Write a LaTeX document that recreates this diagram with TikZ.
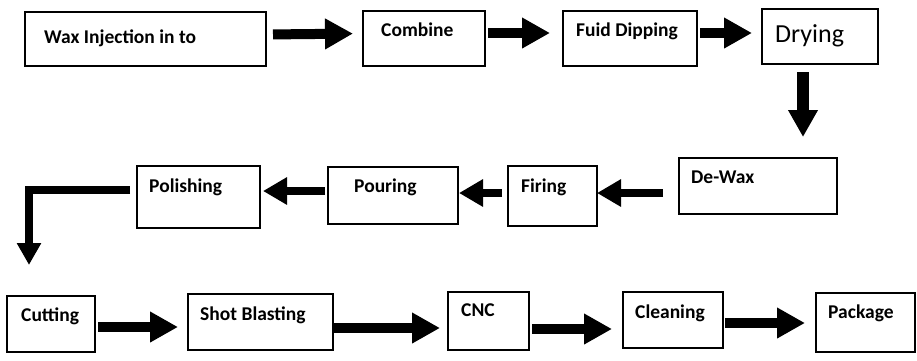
\documentclass[tikz,border=0pt]{standalone}
\usepackage{fontspec}
\setmainfont{Carlito}
\usetikzlibrary{arrows.meta}

\tikzset{
  box/.style={draw, line width=1.6pt, anchor=north west, inner sep=0pt, outer sep=0pt},
  lbl/.style={anchor=base west, inner sep=0pt, font=\bfseries\fontsize{19.5}{22}\selectfont},
  flow/.style={line width=10pt, -{Triangle[width=29pt,length=28pt]}},
  back/.style={line width=8.5pt, -{Triangle[width=26pt,length=24pt]}}
}

\begin{document}
\begin{tikzpicture}[x=1pt, y=-1pt]
        \useasboundingbox (0, 0) rectangle (917, 360);

        \node[box, minimum width=241pt, minimum height=54pt] (wax) at (25, 12) {};
        \node[box, minimum width=122pt, minimum height=55pt] (comb) at (363, 11) {};
        \node[box, minimum width=134pt, minimum height=55pt] (dip) at (563, 11) {};
        \node[box, minimum width=116pt, minimum height=55pt] (dry) at (762, 9) {};
        \node[box, minimum width=158pt, minimum height=56pt] (dewax) at (679, 158) {};
        \node[box, minimum width=89pt, minimum height=60pt] (fir) at (508, 166) {};
        \node[box, minimum width=130pt, minimum height=57pt] (pour) at (328, 167) {};
        \node[box, minimum width=123pt, minimum height=62pt] (pol) at (137, 166) {};
        \node[box, minimum width=88pt, minimum height=56pt] (cut) at (7, 296) {};
        \node[box, minimum width=145pt, minimum height=56pt] (shot) at (188, 294) {};
        \node[box, minimum width=81pt, minimum height=58pt] (cnc) at (448, 292) {};
        \node[box, minimum width=100pt, minimum height=56pt] (clean) at (623, 292) {};
        \node[box, minimum width=99pt, minimum height=59pt] (pack) at (816, 293) {};

        \node[lbl] (wax-t) at ([shift={(19, 31)}]wax.north west) {Wax Injection in to};
        \node[lbl] (comb-t) at ([shift={(18, 25)}]comb.north west) {Combine};
        \node[lbl] (dip-t) at ([shift={(13, 25)}]dip.north west) {Fuid Dipping};
        \node[lbl, font=\fontsize{26}{29}\selectfont] (dry-t) at ([shift={(13, 33)}]dry.north west) {Drying};
        \node[lbl] (dewax-t) at ([shift={(12, 25)}]dewax.north west) {De-Wax};
        \node[lbl] (fir-t) at ([shift={(13, 26)}]fir.north west) {Firing};
        \node[lbl] (pour-t) at ([shift={(26, 25.5)}]pour.north west) {Pouring};
        \node[lbl] (pol-t) at ([shift={(12, 26.5)}]pol.north west) {Polishing};
        \node[lbl] (cut-t) at ([shift={(14, 25.5)}]cut.north west) {Cutting};
        \node[lbl] (shot-t) at ([shift={(12, 26)}]shot.north west) {Shot Blasting};
        \node[lbl] (cnc-t) at ([shift={(13, 24.5)}]cnc.north west) {CNC};
        \node[lbl] (clean-t) at ([shift={(12, 26)}]clean.north west) {Cleaning};
        \node[lbl] (pack-t) at ([shift={(12, 25)}]pack.north west) {Package};

        % top row
        \draw[flow, shorten <=7pt, shorten >=10pt] ([yshift=4.5pt]wax.east) -- ([yshift=5pt]comb.west);
        \draw[flow, shorten <=3pt, shorten >=13pt] ([yshift=5.5pt]comb.east) -- ([yshift=5.5pt]dip.west);
        \draw[flow, shorten <=3pt, shorten >=10pt] ([yshift=5.5pt]dip.east) -- ([yshift=3.5pt]dry.west);
        \coordinate (drop) at ([xshift=-17pt]dry.south);
        \draw[line width=12pt, -{Triangle[width=28pt,length=27pt]}, shorten <=8pt, shorten >=21pt] (drop) -- (drop |- dewax.north);

        % middle row, right to left
        \draw[back, shorten <=16pt] ([yshift=-7pt]dewax.west) -- ([yshift=3pt]fir.east);
        \draw[back, shorten <=6pt, shorten >=1pt] ([yshift=3pt]fir.west) -- ([yshift=2.5pt]pour.east);
        \draw[back, shorten <=3pt, shorten >=3pt] ([yshift=4.5pt]pour.west) -- ([yshift=6pt]pol.east);
        \draw[line width=8pt, -{Triangle[width=23pt,length=22pt]}, shorten <=7pt, shorten >=31pt] ([yshift=7pt]pol.west) -| ([xshift=-22pt]cut.north);

        % bottom row
        \draw[flow, shorten <=3pt, shorten >=10pt] ([yshift=-3pt]cut.east) -- ([yshift=-5pt]shot.west);
        \draw[flow, shorten <=1pt, shorten >=8pt] ([yshift=-6pt]shot.east) -- ([yshift=-7pt]cnc.west);
        \draw[flow, shorten <=3pt, shorten >=11pt] ([yshift=-8pt]cnc.east) -- ([yshift=-9pt]clean.west);
        \draw[flow, shorten <=2pt, shorten >=11pt] ([yshift=-3pt]clean.east) -- ([yshift=-0.5pt]pack.west);
\end{tikzpicture}
\end{document}
